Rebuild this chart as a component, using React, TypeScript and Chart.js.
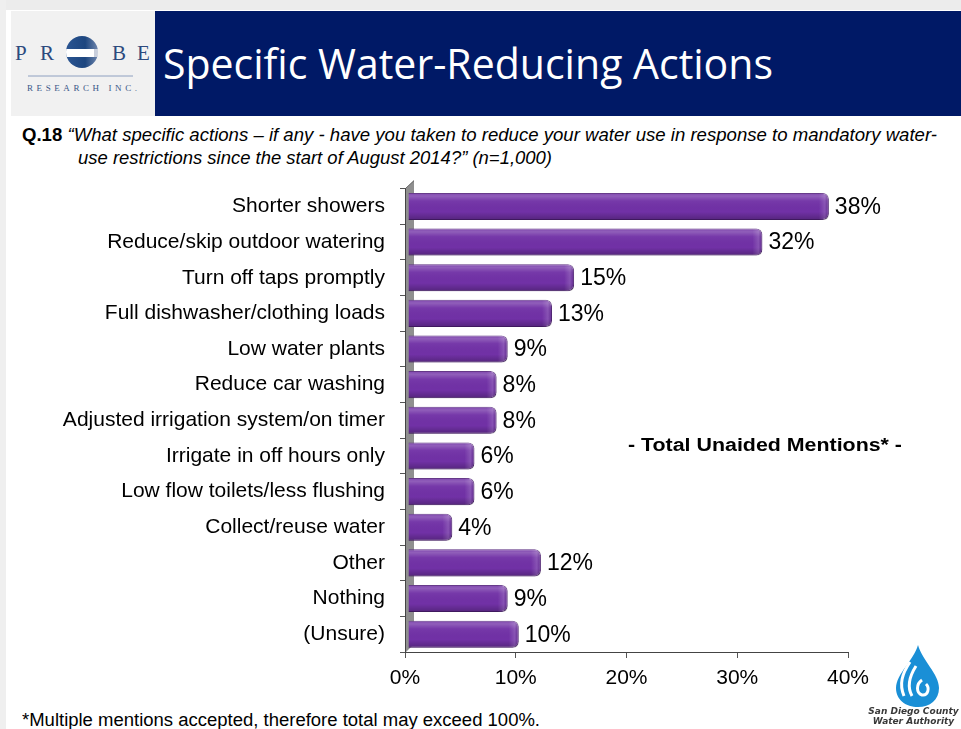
import React, { useEffect, useLayoutEffect, useRef } from "react";
import { Chart, registerables } from "chart.js";

Chart.register(...registerables);

const categories = [
  "Shorter showers",
  "Reduce/skip outdoor watering",
  "Turn off taps promptly",
  "Full dishwasher/clothing loads",
  "Low water plants",
  "Reduce car washing",
  "Adjusted irrigation system/on timer",
  "Irrigate in off hours only",
  "Low flow toilets/less flushing",
  "Collect/reuse water",
  "Other",
  "Nothing",
  "(Unsure)",
];
const values = [38, 32, 15, 13, 9, 8, 8, 6, 6, 4, 12, 9, 10];
const xMin = 0;
const xMax = 40;
const xStep = 10;

const titleText = "Specific Water-Reducing Actions";
const questionLine1 =
  "\u201CWhat specific actions \u2013 if any - have you taken to reduce your water use in response to mandatory water-";
const questionLine2 = "use restrictions since the start of August 2014?\u201D (n=1,000)";
const noteText = "- Total Unaided Mentions* -";
const footText = "*Multiple mentions accepted, therefore total may exceed 100%.";

const SANS = "'Liberation Sans', Arial, sans-serif";
const DEPTH_SHIFT = 3;

function FitText(props: {
  width: number;
  left: number;
  top: number;
  size: number;
  family: string;
  color?: string;
  weight?: string | number;
  italic?: boolean;
  children: React.ReactNode;
}) {
  const ref = useRef<HTMLSpanElement>(null);
  useLayoutEffect(() => {
    const el = ref.current;
    if (!el) return;
    el.style.transform = "none";
    const w = el.getBoundingClientRect().width;
    if (w > 0) el.style.transform = `scaleX(${props.width / w})`;
  });
  return (
    <span
      ref={ref}
      style={{
        position: "absolute",
        left: props.left,
        top: props.top,
        fontSize: props.size,
        lineHeight: `${props.size}px`,
        fontFamily: props.family,
        color: props.color || "#000",
        fontWeight: props.weight as any,
        fontStyle: props.italic ? "italic" : "normal",
        whiteSpace: "nowrap",
        transformOrigin: "0 0",
        display: "inline-block",
      }}
    >
      {props.children}
    </span>
  );
}

function ProbeLogo() {
  const letter = (ch: string, x: number) => (
    <text x={x} y={49} fontFamily="'Liberation Serif', serif" fontSize={21} fill="#2c4a7e">
      {ch}
    </text>
  );
  return (
    <svg width={144} height={105} style={{ position: "absolute", left: 11, top: 11 }}>
      <rect x={0} y={0} width={144} height={105} fill="#f1f1f1" />
      {letter("P", 4)}
      {letter("R", 29)}
      {letter("B", 101)}
      {letter("E", 126)}
      <defs>
        <linearGradient id="pg" x1="0" y1="0" x2="1" y2="0">
          <stop offset="0" stopColor="#2b5592" />
          <stop offset="0.6" stopColor="#1d467f" />
          <stop offset="1" stopColor="#6f86ad" />
        </linearGradient>
        <clipPath id="pc">
          <circle cx={71} cy={41} r={16} />
        </clipPath>
      </defs>
      <g clipPath="url(#pc)">
        <rect x={55} y={25} width={32} height={32} fill="url(#pg)" />
        <rect x={55} y={38} width={32} height={8} fill="#ffffff" />
        <rect x={83} y={38} width={4} height={8} fill="#c9cfdc" />
      </g>
      <line x1={17} y1={65} x2={122} y2={65} stroke="#8ea0c0" strokeWidth={1} />
      <text
        x={16}
        y={80}
        fontFamily="'Liberation Serif', serif"
        fontSize={9}
        fill="#3a5788"
        textLength={110}
        lengthAdjust="spacing"
      >
        RESEARCH INC.
      </text>
    </svg>
  );
}

function SDLogo() {
  return (
    <div style={{ position: "absolute", left: 866, top: 640, width: 95, height: 89 }}>
      <svg width={95} height={68} style={{ position: "absolute", left: 0, top: 0 }}>
        <path
          d="M52 5 C48 20 30 34 30 48 C30 60 40 67 52 67 C64 67 73 60 73 48 C73 34 56 20 52 5 Z"
          fill="#1a8fd6"
        />
        <path d="M44 22 C36 34 33 44 38 56" stroke="#fff" strokeWidth={3} fill="none" />
        <path d="M50 26 C43 37 41 47 46 56" stroke="#fff" strokeWidth={3} fill="none" />
        <path d="M56 40 C50 44 50 53 56 55 C62 56 64 48 60 44" stroke="#fff" strokeWidth={3} fill="none" />
      </svg>
      <div
        style={{
          position: "absolute",
          left: 0,
          top: 66,
          width: 95,
          textAlign: "center",
          fontFamily: "'DejaVu Sans', sans-serif",
          fontWeight: "bold",
          fontStyle: "italic",
          fontSize: 9,
          lineHeight: "10px",
          color: "#3a3a3a",
        }}
      >
        San Diego County
        <br />
        Water Authority
      </div>
    </div>
  );
}

function BarChart() {
  const ref = useRef<HTMLCanvasElement>(null);
  useEffect(() => {
    if (!ref.current) return;
    const wallPlugin = {
      id: "wall",
      beforeDatasetsDraw(chart: any) {
        const { ctx, chartArea } = chart;
        const l = chartArea.left + 1;
        const t = chartArea.top;
        const b = chartArea.bottom;
        const d = 8;
        ctx.save();
        ctx.fillStyle = "#8f8f8f";
        ctx.beginPath();
        ctx.moveTo(l, b);
        ctx.lineTo(l, t);
        ctx.lineTo(l + d, t - d);
        ctx.lineTo(l + d, b - d);
        ctx.closePath();
        ctx.fill();
        ctx.strokeStyle = "#555";
        ctx.lineWidth = 1;
        ctx.beginPath();
        ctx.moveTo(l - 0.5, t);
        ctx.lineTo(l + d, t - d);
        ctx.stroke();
        ctx.restore();
        ctx.save();
        ctx.translate(DEPTH_SHIFT, 0);
      },
      afterDatasetsDraw(chart: any) {
        chart.ctx.restore();
      },
    };
    const labelPlugin = {
      id: "barLabels",
      afterDatasetsDraw(chart: any) {
        const { ctx } = chart;
        const meta = chart.getDatasetMeta(0);
        ctx.save();
        meta.data.forEach((el: any, i: number) => {
          const p = el.getProps(["x", "y", "base", "height"], true);
          const x = p.x + DEPTH_SHIFT;
          const base = p.base + DEPTH_SHIFT;
          const top = p.y - p.height / 2;
          const h = p.height;
          const r = 6;
          ctx.save();
          ctx.beginPath();
          ctx.moveTo(base, top);
          ctx.lineTo(x - r, top);
          ctx.quadraticCurveTo(x, top, x, top + r);
          ctx.lineTo(x, top + h - r);
          ctx.quadraticCurveTo(x, top + h, x - r, top + h);
          ctx.lineTo(base, top + h);
          ctx.closePath();
          ctx.clip();
          const g = ctx.createLinearGradient(0, top, 0, top + h);
          g.addColorStop(0, "rgba(255,255,255,0.10)");
          g.addColorStop(0.12, "rgba(255,255,255,0.22)");
          g.addColorStop(0.3, "rgba(255,255,255,0.04)");
          g.addColorStop(0.7, "rgba(0,0,0,0)");
          g.addColorStop(1, "rgba(0,0,0,0.25)");
          ctx.fillStyle = g;
          ctx.fillRect(base, top, x - base, h);
          const g2 = ctx.createLinearGradient(x - 10, 0, x, 0);
          g2.addColorStop(0, "rgba(255,255,255,0)");
          g2.addColorStop(0.6, "rgba(255,255,255,0.16)");
          g2.addColorStop(1, "rgba(0,0,0,0.1)");
          ctx.fillStyle = g2;
          ctx.fillRect(x - 10, top, 10, h);
          ctx.restore();
          ctx.fillStyle = "#000";
          ctx.font = `23px ${SANS}`;
          ctx.textAlign = "left";
          ctx.textBaseline = "middle";
          ctx.fillText(values[i] + "%", x + 6, p.y + 1);
        });
        ctx.restore();
      },
    };
    const chart = new Chart(ref.current, {
      type: "bar",
      data: {
        labels: categories,
        datasets: [
          {
            data: values,
            backgroundColor: "#7131a6",
            borderColor: "#52207a",
            borderWidth: 1,
            borderRadius: 6,
            borderSkipped: "start",
            barPercentage: 0.76,
            categoryPercentage: 1,
          },
        ],
      },
      options: {
        indexAxis: "y",
        animation: false,
        responsive: false,
        layout: { padding: { left: 0, right: 113, top: 0, bottom: 0 } },
        plugins: { legend: { display: false }, tooltip: { enabled: false } },
        scales: {
          x: {
            min: xMin,
            max: xMax,
            ticks: {
              stepSize: xStep,
              callback: (v: any) => v + "%",
              font: { size: 21, family: SANS },
              color: "#000",
              padding: 8,
            },
            grid: { drawOnChartArea: false, drawTicks: true, tickLength: 6, color: "#555" },
            border: { color: "#444", width: 1 },
            afterFit: (s: any) => {
              s.height = 53;
            },
          },
          y: {
            ticks: {
              font: { size: 21, family: SANS },
              color: "#000",
              padding: 15,
              autoSkip: false,
            },
            grid: { drawOnChartArea: false, drawTicks: true, tickLength: 5, color: "#555", offset: true },
            border: { color: "#444", width: 1 },
            afterFit: (s: any) => {
              s.width = 405;
            },
          },
        },
      } as any,
      plugins: [wallPlugin, labelPlugin],
    });
    return () => chart.destroy();
  }, []);
  return (
    <canvas
      ref={ref}
      width={961}
      height={544}
      style={{ position: "absolute", left: 0, top: 161, width: 961, height: 544 }}
    />
  );
}

export default function App() {
  return (
    <div
      style={{
        position: "absolute",
        left: 0,
        top: 0,
        width: 961,
        height: 729,
        background: "#fff",
        overflow: "hidden",
      }}
    >
      <div style={{ position: "absolute", left: 0, top: 0, width: 961, height: 10, background: "#ececec" }} />
      <div style={{ position: "absolute", left: 0, top: 0, width: 6, height: 729, background: "#efefef" }} />
      <div style={{ position: "absolute", left: 155, top: 11, width: 806, height: 105, background: "#001966" }} />
      <ProbeLogo />
      <FitText left={163} top={42} width={610} size={42} family="'Open Sans', sans-serif" color="#fff">
        {titleText}
      </FitText>
      <FitText left={22} top={126} width={915} size={18} family={SANS} italic>
        <b style={{ fontStyle: "normal" }}>Q.18 </b>
        {questionLine1}
      </FitText>
      <FitText left={78} top={149} width={474} size={18} family={SANS} italic>
        {questionLine2}
      </FitText>
      <BarChart />
      <FitText left={628} top={436} width={274} size={18} family={SANS} weight="bold">
        {noteText}
      </FitText>
      <FitText left={22} top={711} width={518} size={18} family={SANS}>
        {footText}
      </FitText>
      <SDLogo />
    </div>
  );
}
